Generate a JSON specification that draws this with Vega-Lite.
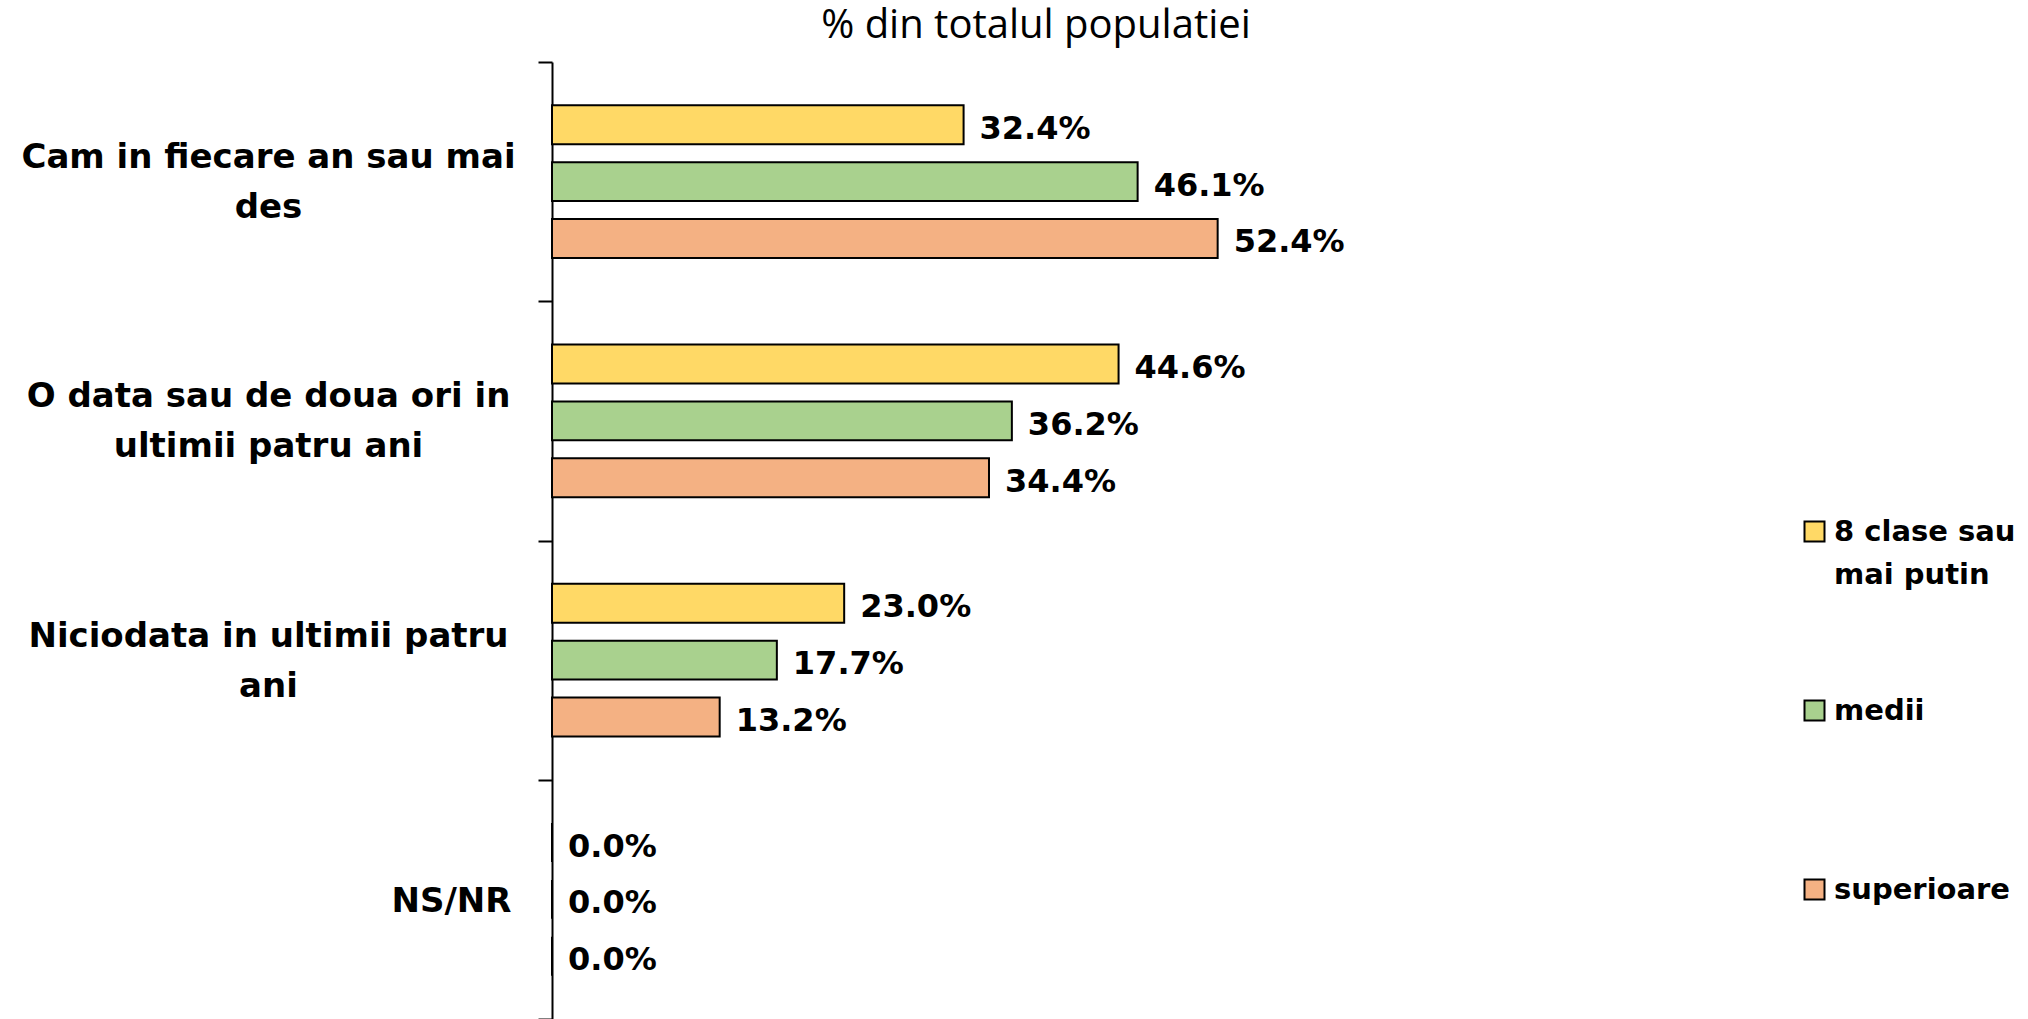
{
  "$schema": "https://vega.github.io/schema/vega-lite/v6.json",
  "autosize": "none",
  "width": 968,
  "height": 957,
  "padding": {"left": 552, "top": 62, "right": 508, "bottom": 0},
  "background": "white",
  "title": {
    "text": "% din totalul populatiei",
    "font": "Open Sans",
    "fontSize": 40,
    "fontWeight": 400,
    "color": "black",
    "anchor": "middle",
    "frame": "group",
    "baseline": "alphabetic",
    "offset": 14,
    "dy": 47
  },
  "data": {
    "values": [
      {"cat": "Cam in fiecare an sau mai des", "grp": "8 clase sau mai putin", "val": 0.324},
      {"cat": "Cam in fiecare an sau mai des", "grp": "medii", "val": 0.461},
      {"cat": "Cam in fiecare an sau mai des", "grp": "superioare", "val": 0.524},
      {"cat": "O data sau de doua ori in ultimii patru ani", "grp": "8 clase sau mai putin", "val": 0.446},
      {"cat": "O data sau de doua ori in ultimii patru ani", "grp": "medii", "val": 0.362},
      {"cat": "O data sau de doua ori in ultimii patru ani", "grp": "superioare", "val": 0.344},
      {"cat": "Niciodata in ultimii patru ani", "grp": "8 clase sau mai putin", "val": 0.230},
      {"cat": "Niciodata in ultimii patru ani", "grp": "medii", "val": 0.177},
      {"cat": "Niciodata in ultimii patru ani", "grp": "superioare", "val": 0.132},
      {"cat": "NS/NR", "grp": "8 clase sau mai putin", "val": 0.0},
      {"cat": "NS/NR", "grp": "medii", "val": 0.0},
      {"cat": "NS/NR", "grp": "superioare", "val": 0.0}
    ]
  },
  "encoding": {
    "y": {
      "field": "cat",
      "type": "nominal",
      "sort": ["Cam in fiecare an sau mai des", "O data sau de doua ori in ultimii patru ani", "Niciodata in ultimii patru ani", "NS/NR"],
      "scale": {"paddingInner": 0, "paddingOuter": 0},
      "axis": {
        "title": null,
        "domainColor": "black",
        "domainWidth": 2,
        "tickColor": "black",
        "tickWidth": 2,
        "tickSize": 14,
        "tickBand": "extent",
        "labelFont": "DejaVu Sans",
        "labelFontWeight": "bold",
        "labelFontSize": 34,
        "labelColor": "black",
        "labelLimit": 0,
        "labelLineHeight": 50,
        "labelBaseline": "middle",
        "labelAlign": {"condition": {"test": "datum.value == 'NS/NR'", "value": "right"}, "value": "center"},
        "labelPadding": {"condition": {"test": "datum.value == 'NS/NR'", "value": 27}, "value": 270},
        "labelOffset": {"condition": {"test": "datum.value == 'NS/NR'", "value": 2}, "value": -24},
        "labelExpr": "datum.value == 'Cam in fiecare an sau mai des' ? ['Cam in fiecare an sau mai', 'des'] : datum.value == 'O data sau de doua ori in ultimii patru ani' ? ['O data sau de doua ori in', 'ultimii patru ani'] : datum.value == 'Niciodata in ultimii patru ani' ? ['Niciodata in ultimii patru', 'ani'] : datum.value"
      }
    },
    "yOffset": {
      "field": "grp",
      "type": "nominal",
      "sort": ["8 clase sau mai putin", "medii", "superioare"],
      "scale": {"paddingInner": 0.316, "paddingOuter": 0.763}
    },
    "x": {
      "field": "val",
      "type": "quantitative",
      "scale": {"domain": [0, 0.762], "nice": false, "zero": true},
      "axis": null
    }
  },
  "layer": [
    {
      "mark": {"type": "bar", "stroke": "black", "strokeWidth": 2},
      "encoding": {
        "color": {
          "field": "grp",
          "type": "nominal",
          "sort": ["8 clase sau mai putin", "medii", "superioare"],
          "scale": {"domain": ["8 clase sau mai putin", "medii", "superioare"], "range": ["#FFD966", "#A9D18E", "#F4B183"]},
          "legend": {
            "title": null,
            "orient": "none",
            "legendX": 1248,
            "legendY": 455,
            "padding": 0,
            "gridAlign": "all",
            "rowPadding": 106,
            "symbolType": "square",
            "symbolSize": 400,
            "symbolStrokeColor": "black",
            "symbolStrokeWidth": 2,
            "symbolOpacity": 1,
            "labelOffset": 5,
            "labelFont": "DejaVu Sans",
            "labelFontWeight": "bold",
            "labelFontSize": 29,
            "labelColor": "black",
            "labelLimit": 0,
            "labelExpr": "datum.label == '8 clase sau mai putin' ? ['8 clase sau', 'mai putin'] : datum.label",
            "encode": {"labels": {"update": {"lineHeight": {"value": 43}}}}
          }
        }
      }
    },
    {
      "mark": {"type": "text", "align": "left", "baseline": "middle", "dx": 16, "dy": 4, "font": "DejaVu Sans", "fontWeight": "bold", "fontSize": 32, "color": "black"},
      "encoding": {
        "text": {"field": "val", "type": "quantitative", "format": ".1%"}
      }
    }
  ],
  "config": {
    "view": {"stroke": null}
  }
}
